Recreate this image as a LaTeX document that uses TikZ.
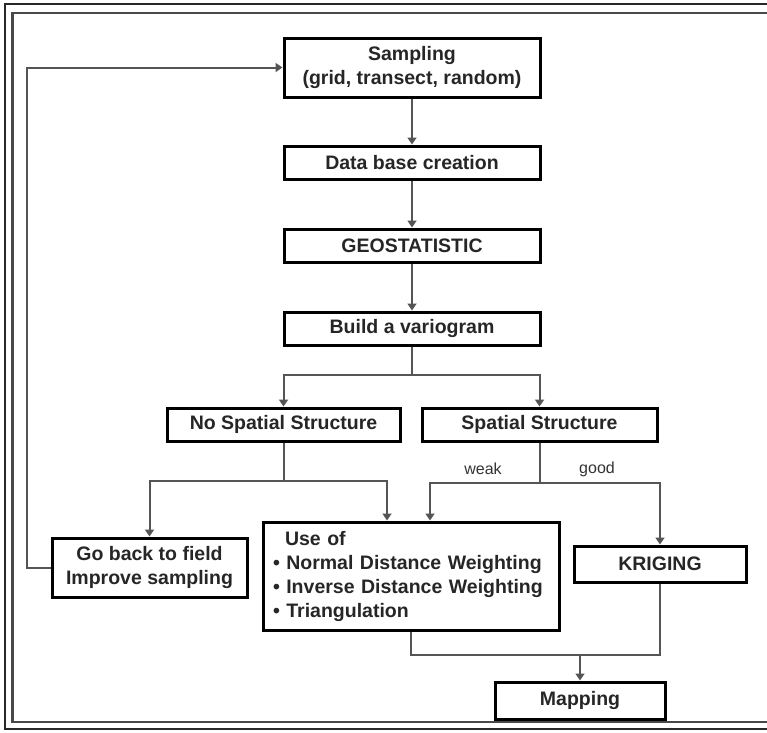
\documentclass[tikz,border=0pt]{standalone}
\usepackage{fontspec}
\setmainfont{Liberation Sans}
\usepackage{xcolor}
\usepackage{tikz}
\usetikzlibrary{arrows.meta,positioning}
\definecolor{flowgray}{RGB}{85,85,85}
\definecolor{frameink}{RGB}{40,40,40}

\begin{document}
\begin{tikzpicture}[
  x=1pt, y=-1pt,
  box/.style={draw=black, line width=3pt, fill=white, inner sep=0pt,
    align=center, text=black!85, font={\fontsize{19.5}{24}\selectfont\bfseries}},
  smallbox/.style={box, minimum height=33pt},
  link/.style={draw=flowgray, line width=2pt},
  lbl/.style={text=black!80, font={\fontsize{16}{18}\selectfont}},
  >={Triangle[length=7pt,width=9pt]},
  ]
  \useasboundingbox (0,0) rectangle (767,732);

  % Cadre double
  \draw[frameink, line width=2pt] (767,4) -- (5,4) -- (5,729) -- (767,729);
  \draw[frameink!85, line width=2.4pt] (767,13) -- (12.5,13) -- (12.5,722) -- (767,722);

  % Chaine principale
  \node[box, minimum width=256pt, minimum height=59pt] (sampling) at (412,67.5)
    {Sampling\\(grid, transect, random)};
  \node[smallbox, minimum width=256pt] (database) at (412,162.5) {Data base creation};
  \node[smallbox, minimum width=256pt] (geostat)  at (412,245.5) {GEOSTATISTIC};
  \node[smallbox, minimum width=256pt] (vario)    at (412,328.5) {Build a variogram};

  % Structure spatiale
  \node[smallbox, minimum width=233pt] (nospatial) at (283.5,424.5) {No Spatial Structure};
  \node[smallbox, minimum width=235pt] (spatial)   at (539.5,424.5) {Spatial Structure};

  % Methodes
  \node[box, minimum width=195pt, minimum height=59pt] (goback) at (149.5,567.5)
    {Go back to field\\Improve sampling};
  \node[box, minimum width=296pt, minimum height=108pt, text width=276pt,
        align=left] (useof) at (411,576)
    {\hspace*{12pt}Use of\\
     \textbullet{} Normal Distance Weighting\\
     \textbullet{} Inverse Distance Weighting\\
     \textbullet{} Triangulation};
  \node[box, minimum width=172pt, minimum height=36pt] (kriging) at (660,564) {KRIGING};
  \node[box, minimum width=170pt, minimum height=37pt] (mapping) at (580,700.5) {Mapping};

  % Etiquettes
  \node[lbl] (weak) at (483,469) {weak};
  \node[lbl] (good) at (597,469) {good};

  % Points de branchement
  \coordinate (split1) at (412,375);
  \coordinate (split2) at (283.5,481);
  \coordinate (split3) at (539.5,483);
  \coordinate (merge)  at (580,655);
  \coordinate (loopx)  at (27,0);

  % Liens
  \draw[link,->] (sampling) -- (database);
  \draw[link,->] (database) -- (geostat);
  \draw[link,->] (geostat) -- (vario);
  \draw[link] (vario) -- (split1);
  \draw[link,->] (split1) -| (nospatial);
  \draw[link,->] (split1) -| (spatial);
  \draw[link] (nospatial) -- (split2);
  \draw[link,->] (split2) -| (goback);
  \draw[link,->] (split2) -| ([xshift=-24pt]useof.north);
  \draw[link] (spatial) -- (split3);
  \draw[link,->] (split3) -| ([xshift=19pt]useof.north);
  \draw[link,->] (split3) -| (kriging);
  \draw[link] (useof.south) |- (merge) -| (kriging.south);
  \draw[link,->] (merge) -- (mapping);
  % Retour au terrain
  \draw[link,->] (goback.west) -- (goback.west -| loopx) |- (sampling.west);
\end{tikzpicture}
\end{document}
